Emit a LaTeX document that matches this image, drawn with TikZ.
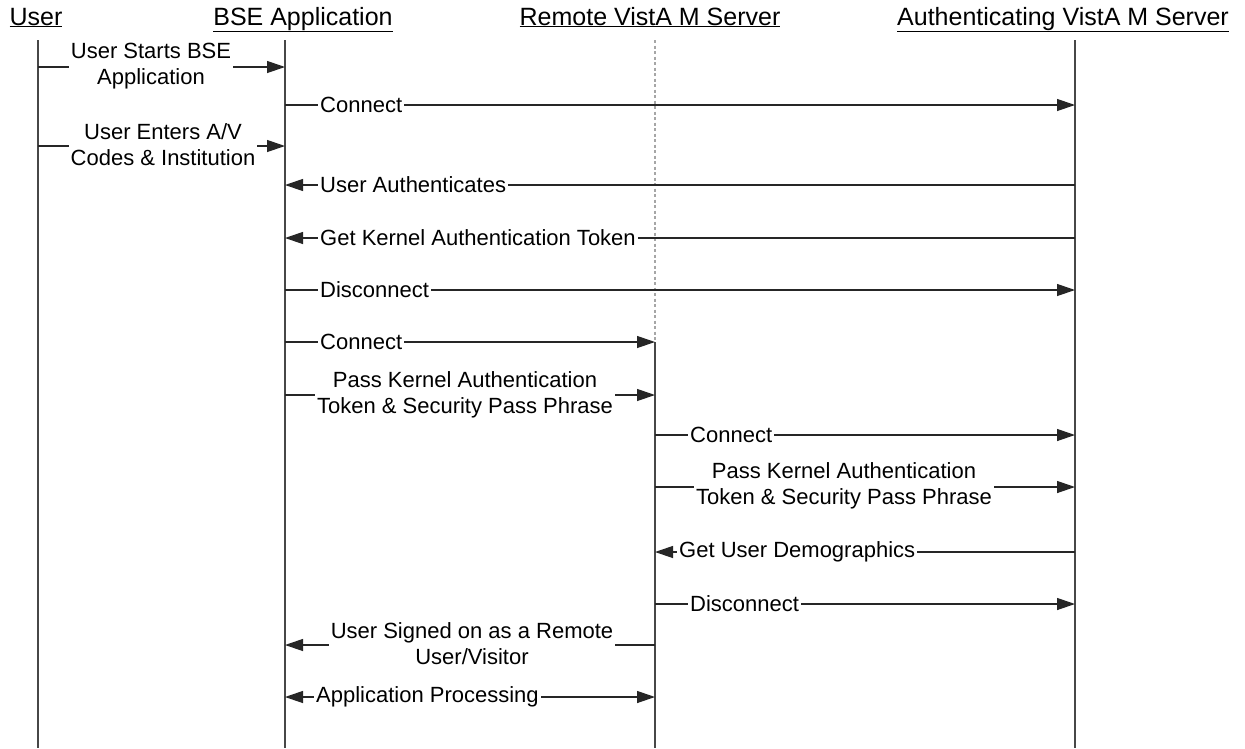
\documentclass[tikz,border=0pt]{standalone}
\usepackage{fontspec}
\setmainfont{Liberation Sans}
\usetikzlibrary{arrows.meta}
\begin{document}
\begin{tikzpicture}[x=1pt,y=-1pt,
  life/.style={draw=black!72, line width=1.4pt},
  lifedash/.style={draw=black!35, line width=1.2pt, dash pattern=on 3pt off 2.5pt},
  msg/.style={draw=black!85, line width=1.2pt, -{Triangle[length=18pt,width=12pt]}},
  msgboth/.style={draw=black!85, line width=1.2pt, {Triangle[length=18pt,width=12pt]}-{Triangle[length=18pt,width=12pt]}},
  lbl/.style={fill=white, inner xsep=2pt, inner ysep=0pt, font=\fontsize{22}{26}\selectfont, align=center},
  hdr/.style={font=\fontsize{25}{30}\selectfont, inner sep=0pt, anchor=base}]
\useasboundingbox (0,0) rectangle (1245,748);
\fill[white] (0,0) rectangle (1245,748);

% headers
\node[hdr] (hU) at (36,25) {\underline{User}};
\node[hdr] (hB) at (303,25) {\underline{BSE Application}};
\node[hdr] (hR) at (650,25) {\underline{Remote VistA M Server}};
\node[hdr] (hA) at (1063,25) {\underline{Authenticating VistA M Server}};

% lifelines
\coordinate (uT) at (38,40);   \coordinate (uB) at (38,748);
\coordinate (bT) at (285,40);  \coordinate (bB) at (285,748);
\coordinate (rT) at (655,40);  \coordinate (rM) at (655,342); \coordinate (rB) at (655,748);
\coordinate (aT) at (1075,40); \coordinate (aB) at (1075,748);
\draw[life] (uT) -- (uB);
\draw[life] (bT) -- (bB);
\draw[lifedash] (rT) -- (rM);
\draw[life] (rM) -- (rB);
\draw[life] (aT) -- (aB);

% message anchor points
\foreach \n/\y in {1/67,3/146}{
  \coordinate (u\n) at (38,\y); \coordinate (b\n) at (285,\y);}
\foreach \n/\y in {2/105,4/185,5/238,6/290}{
  \coordinate (b\n) at (285,\y); \coordinate (a\n) at (1075,\y);}
\foreach \n/\y in {7/342,8/395,13/645,14/697}{
  \coordinate (b\n) at (285,\y); \coordinate (r\n) at (655,\y);}
\foreach \n/\y in {9/435,10/487,11/552,12/604}{
  \coordinate (r\n) at (655,\y); \coordinate (a\n) at (1075,\y);}

% arrows
\draw[msg] (u1) -- (b1);
\draw[msg] (b2) -- (a2);
\draw[msg] (u3) -- (b3);
\draw[msg] (a4) -- (b4);
\draw[msg] (a5) -- (b5);
\draw[msg] (b6) -- (a6);
\draw[msg] (b7) -- (r7);
\draw[msg] (b8) -- (r8);
\draw[msg] (r9) -- (a9);
\draw[msg] (r10) -- (a10);
\draw[msg] (a11) -- (r11);
\draw[msg] (r12) -- (a12);
\draw[msg] (r13) -- (b13);
\draw[msgboth] (b14) -- (r14);

% labels
\node[lbl] (l1) at (151,66) {User Starts BSE\\Application};
\node[lbl, anchor=west] (l2) at (318,105) {Connect};
\node[lbl] (l3) at (163,145) {User Enters A/V\\Codes \& Institution};
\node[lbl, anchor=west] (l4) at (318,185) {User Authenticates};
\node[lbl, anchor=west] (l5) at (318,238) {Get Kernel Authentication Token};
\node[lbl, anchor=west] (l6) at (318,290) {Disconnect};
\node[lbl, anchor=west] (l7) at (318,342) {Connect};
\node[lbl] (l8) at (465,395) {Pass Kernel Authentication\\Token \& Security Pass Phrase};
\node[lbl, anchor=west] (l9) at (688,435) {Connect};
\node[lbl] (l10) at (844,486) {Pass Kernel Authentication\\Token \& Security Pass Phrase};
\node[lbl, anchor=west] (l11) at (677,552) {Get User Demographics};
\node[lbl, anchor=west] (l12) at (688,604) {Disconnect};
\node[lbl] (l13) at (472,644) {User Signed on as a Remote\\User/Visitor};
\node[lbl, anchor=west] (l14) at (314,697) {Application Processing};
\end{tikzpicture}
\end{document}
